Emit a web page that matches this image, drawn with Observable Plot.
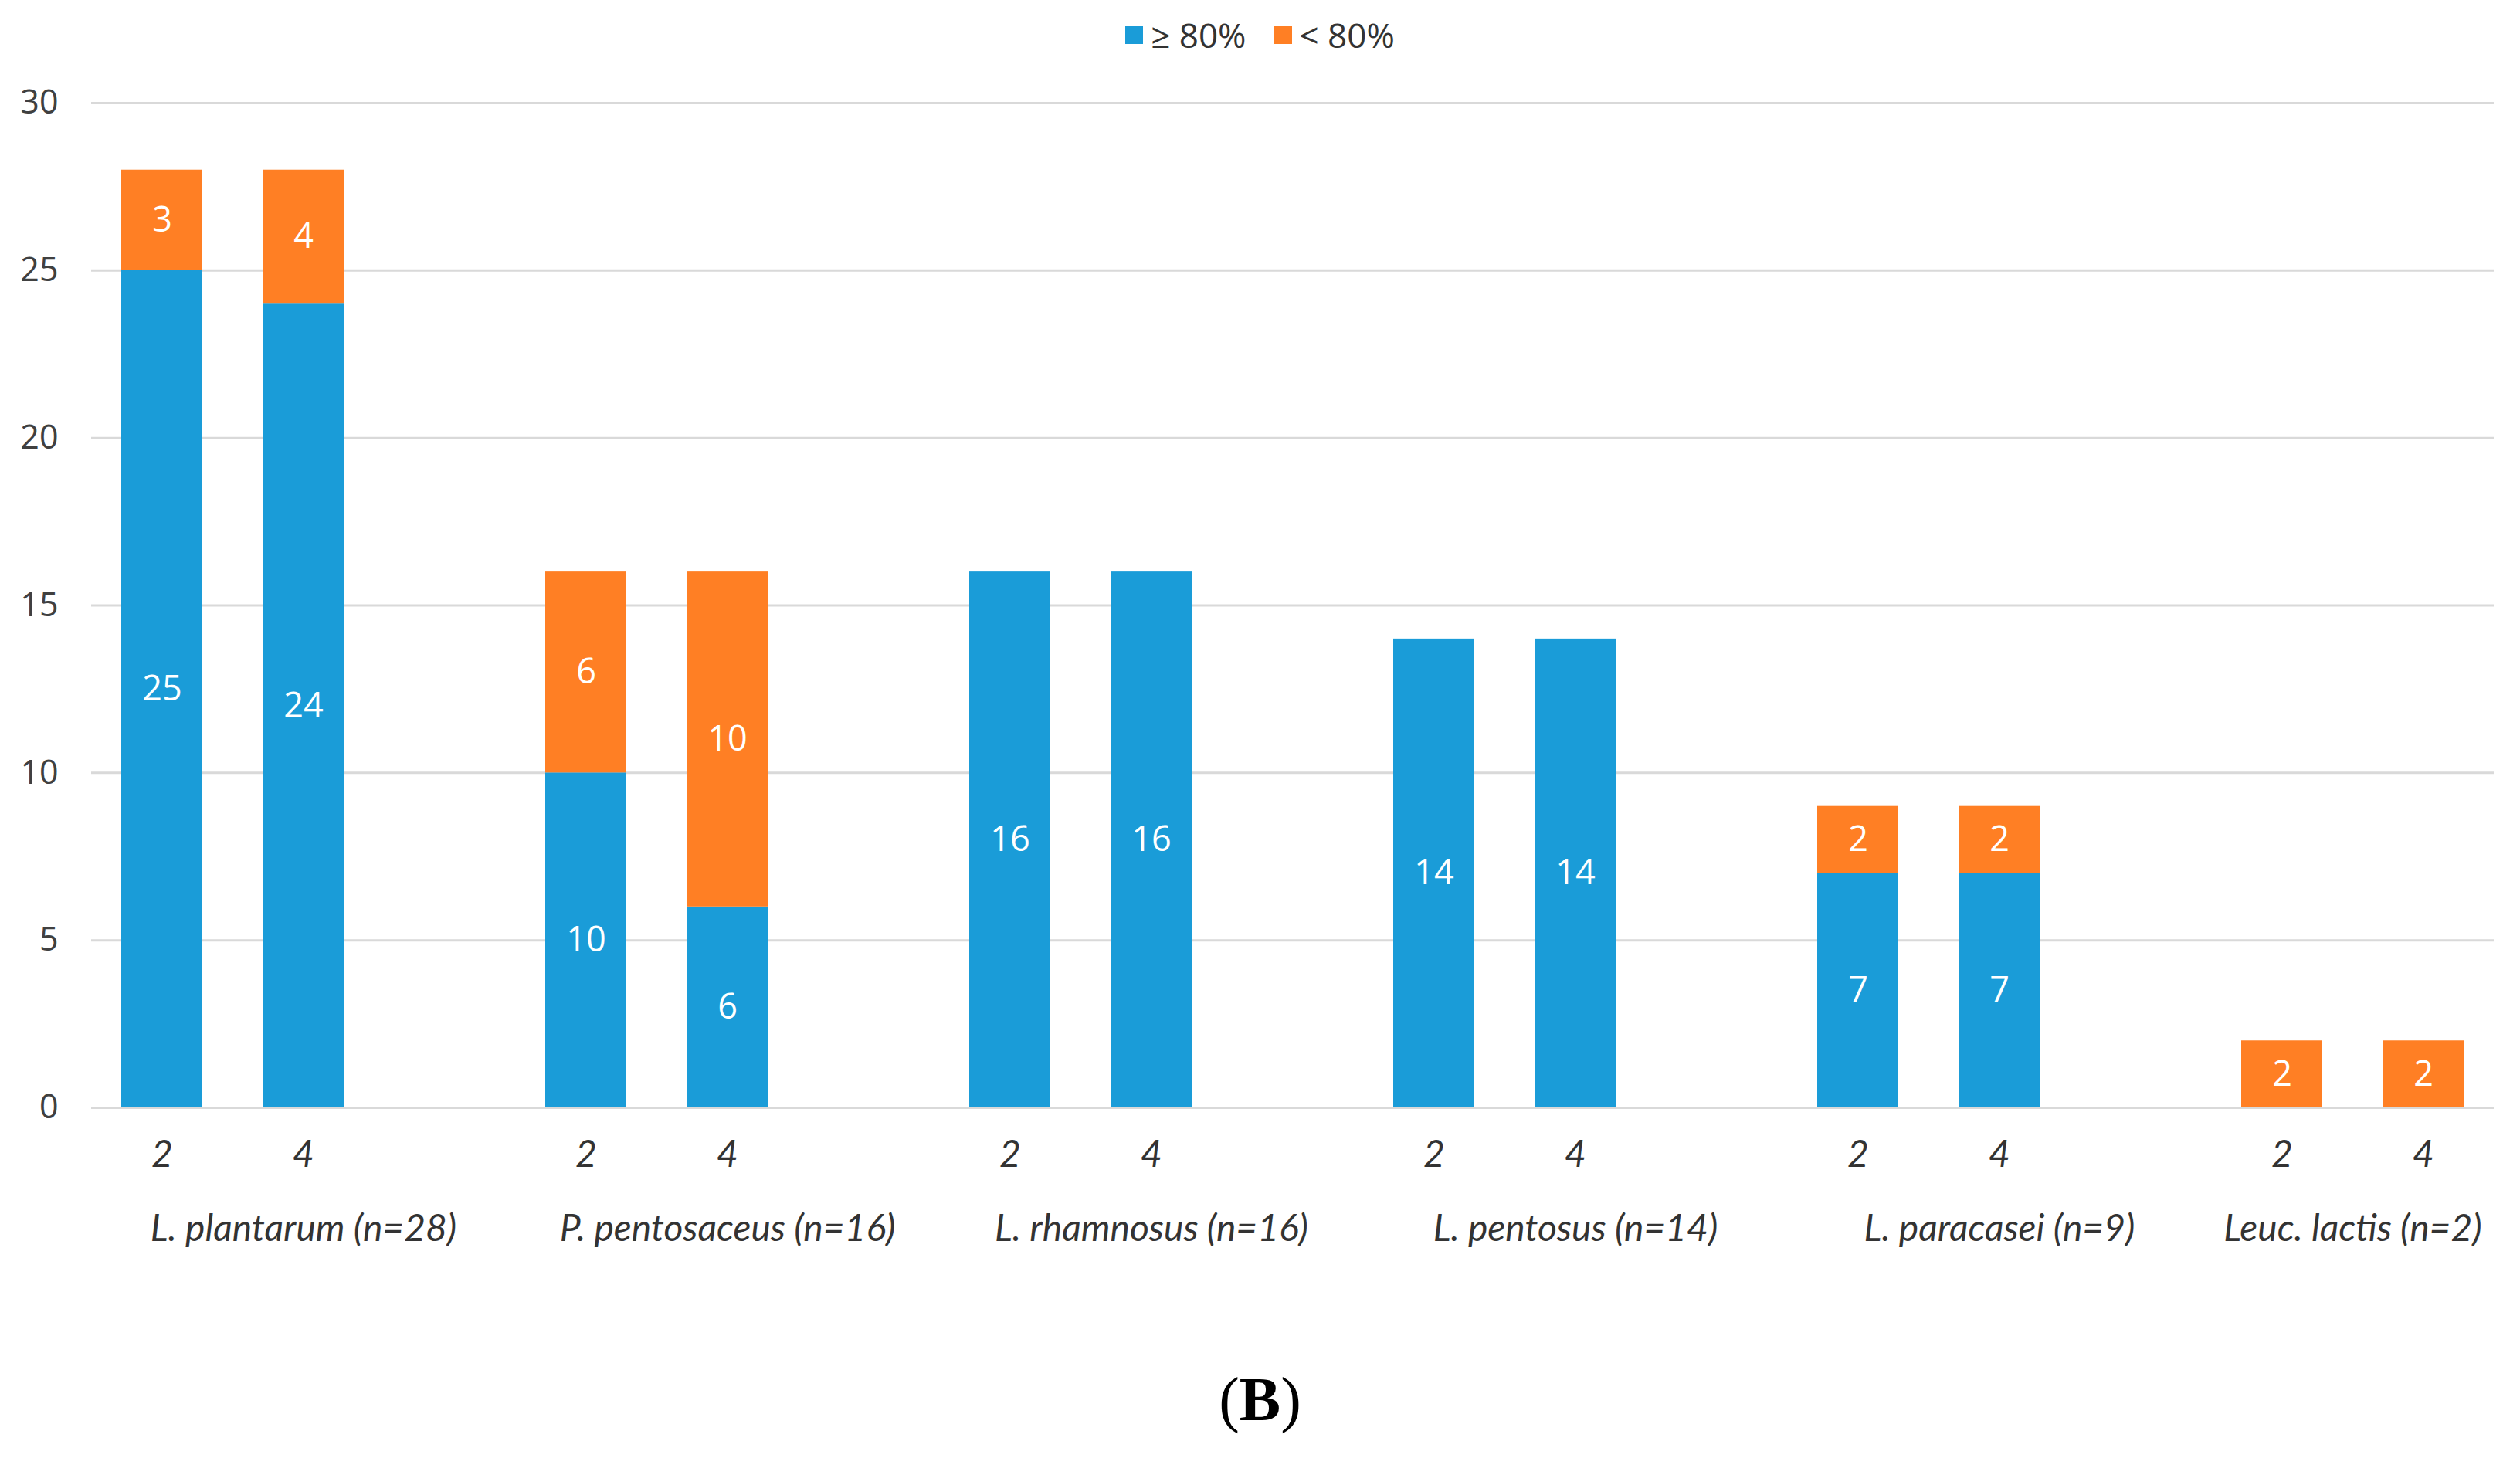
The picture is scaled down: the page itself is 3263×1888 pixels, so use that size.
<!DOCTYPE html>
<html>
<head>
<meta charset="utf-8">
<script src="https://cdn.jsdelivr.net/npm/d3@7"></script>
<script src="https://cdn.jsdelivr.net/npm/@observablehq/plot@0.6"></script>
<style>
  html, body { margin: 0; padding: 0; background: #fff; overflow: hidden; }
  #legend { height: 90px; display: flex; justify-content: center; align-items: center;
            font-family: "Open Sans", sans-serif; font-size: 44px; color: #333; }
  #legend .item { display: flex; align-items: center; margin: 0 18px; }
  #legend .sw { width: 23px; height: 23px; margin-right: 10px; }
  #chart svg { display: block; }
  #caption { margin-top: 128px; height: 100px; line-height: 100px; text-align: center;
             font-family: "Liberation Serif", "DejaVu Serif", serif; font-size: 80px; color: #000; }
</style>
</head>
<body>
<div id="legend"></div>
<div id="chart"></div>
<div id="caption">(<b>B</b>)</div>
<script>
// ---- data ----
const groups = ["L. plantarum (n=28)", "P. pentosaceus (n=16)", "L. rhamnosus (n=16)",
                "L. pentosus (n=14)", "L. paracasei (n=9)", "Leuc. lactis (n=2)"];
const doses = ["2", "4"];
const seriesNames = ["≥ 80%", "< 80%"];
const seriesColors = ["#1A9CD8", "#FF7F24"];
// values per group, per dose (2, 4)
const highValues = [25, 24, 10, 6, 16, 16, 14, 14, 7, 7, 0, 0];   // ≥ 80%
const lowValues  = [3, 4, 6, 10, 0, 0, 0, 0, 2, 2, 2, 2];         // < 80%
const yTicks = [0, 5, 10, 15, 20, 25, 30];

// ---- build tables ----
const keyOf = (g, d) => g + "|" + d;
const domain = [];
groups.forEach((g, i) => {
  doses.forEach(d => domain.push(keyOf(g, d)));
  if (i < groups.length - 1) domain.push(keyOf(g, "gap"));
});
const rows = [];
const doseRows = [];
groups.forEach((g, gi) => {
  doses.forEach((d, di) => {
    const idx = gi * doses.length + di;
    rows.push({key: keyOf(g, d), series: seriesNames[0], value: highValues[idx]});
    rows.push({key: keyOf(g, d), series: seriesNames[1], value: lowValues[idx]});
    doseRows.push({key: keyOf(g, d), dose: d});
  });
});
const groupRows = groups.map(g => ({key: keyOf(g, doses[1]), label: g}));

// ---- legend ----
const legend = d3.select("#legend");
seriesNames.forEach((s, i) => {
  const it = legend.append("div").attr("class", "item");
  it.append("div").attr("class", "sw").style("background", seriesColors[i]);
  it.append("span").text(s);
});

// ---- layout ----
const W = 3263, H = 1544, ML = 118, MR = 34, MT = 43, MB = 200;
const step = (W - ML - MR) / domain.length;

const chart = Plot.plot({
  width: W, height: H,
  marginLeft: ML, marginRight: MR, marginTop: MT, marginBottom: MB,
  style: {fontFamily: "Open Sans", background: "#fff"},
  x: {type: "band", domain, paddingInner: 0.426, paddingOuter: 0.213, align: 0.5, axis: null},
  y: {domain: [0, 30], axis: null, label: null},
  color: {domain: seriesNames, range: seriesColors},
  marks: [
    Plot.gridY(yTicks, {stroke: "#d9d9d9", strokeOpacity: 1, strokeWidth: 3}),
    Plot.axisY(yTicks, {label: null, tickSize: 0, tickPadding: 43, fontSize: 43, fontFamily: "Open Sans", color: "#404040"}),
    Plot.barY(rows, Plot.stackY({x: "key", y: "value", fill: "series"})),
    Plot.text(rows, Plot.stackY({x: "key", y: "value", text: d => String(d.value),
      filter: d => d.value > 0, fill: "white", fontSize: 45, fontFamily: "Open Sans"})),
    Plot.text(doseRows, {x: "key", text: "dose", frameAnchor: "bottom", dy: 76,
      fontSize: 48, fontStyle: "italic", fontFamily: "Lato", fill: "#333"}),
    Plot.text(groupRows.slice(0, -1), {x: "key", text: "label", frameAnchor: "bottom", dy: 172,
      fontSize: 48, fontStyle: "italic", fontFamily: "Lato", fill: "#333"}),
    Plot.text(groupRows.slice(-1), {x: "key", text: "label", frameAnchor: "bottom", dy: 172, dx: -step / 2,
      fontSize: 48, fontStyle: "italic", fontFamily: "Lato", fill: "#333"})
  ]
});
document.getElementById("chart").appendChild(chart);
</script>
</body>
</html>
